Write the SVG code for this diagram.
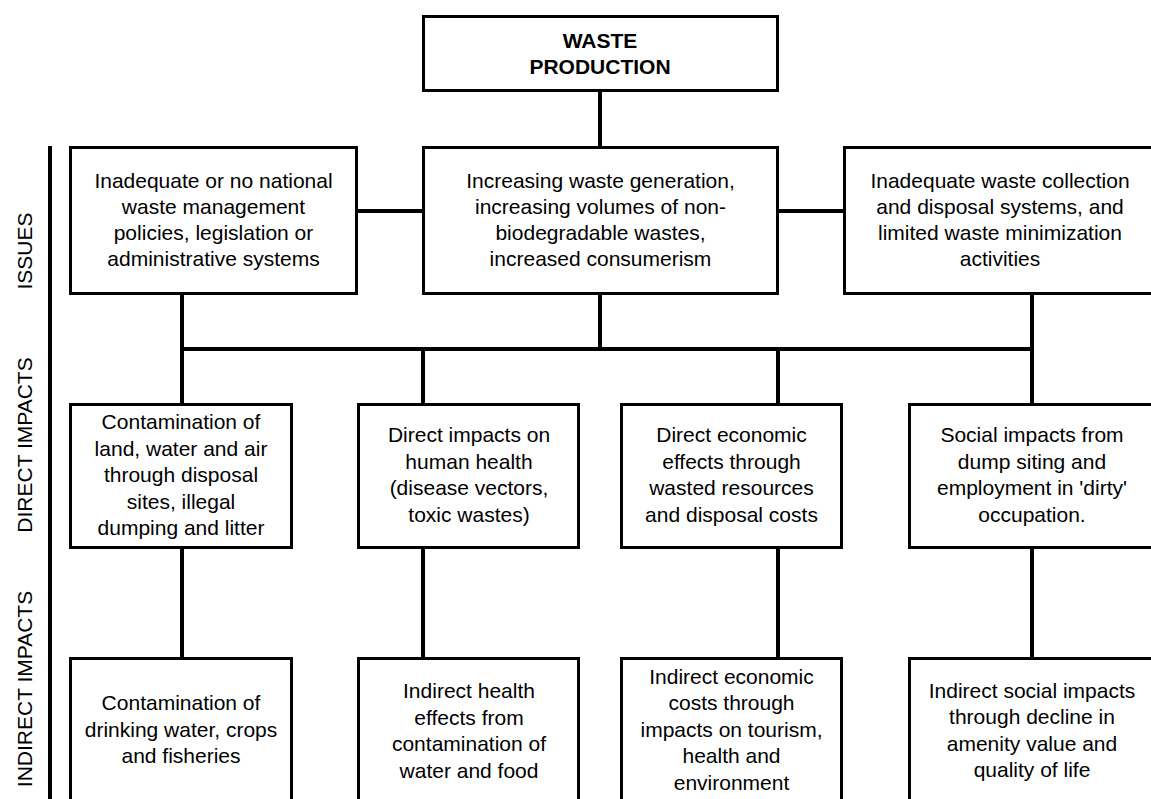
<svg xmlns="http://www.w3.org/2000/svg" width="1151" height="799" viewBox="0 0 1151 799">
<style>
.box{fill:#fff;stroke:#000;stroke-width:3}
.t{font-family:"Liberation Sans",Arial,sans-serif;font-size:21px;text-anchor:middle;fill:#000}
.b{font-weight:bold}
.con{fill:none;stroke:#000;stroke-width:4;stroke-linecap:butt}
</style>
<rect width="1151" height="799" fill="#fff"/>
<g id="labels">
<line x1="50" y1="146" x2="50" y2="799" stroke="#000" stroke-width="4"/>
<text class="t" transform="translate(32,251) rotate(-90)">ISSUES</text>
<text class="t" transform="translate(32,445) rotate(-90)">DIRECT IMPACTS</text>
<text class="t" transform="translate(32,689) rotate(-90)">INDIRECT IMPACTS</text>
</g>
<g id="connectors">
<path class="con" d="M600 92V146"/>
<path class="con" d="M358 211H422"/>
<path class="con" d="M779 211H843"/>
<path class="con" d="M182 295V349M600 295V349M1032 295V349"/>
<path class="con" d="M180 349H1034"/>
<path class="con" d="M182 349V403M423 349V403M778 349V403M1032 349V403"/>
<path class="con" d="M182 549V657M423 549V657M778 549V657M1032 549V657"/>
</g>
<g id="waste-production">
<rect class="box" x="423.5" y="16.5" width="354" height="74"/>
<text class="t b" x="600" y="48">WASTE</text>
<text class="t b" x="600" y="74">PRODUCTION</text>
</g>
<g id="issue-policies">
<rect class="box" x="70.5" y="147.5" width="286" height="146"/>
<text class="t" x="213.5" y="188">Inadequate or no national</text>
<text class="t" x="213.5" y="214">waste management</text>
<text class="t" x="213.5" y="240">policies, legislation or</text>
<text class="t" x="213.5" y="266">administrative systems</text>
</g>
<g id="issue-generation">
<rect class="box" x="423.5" y="147.5" width="354" height="146"/>
<text class="t" x="600.5" y="188">Increasing waste generation,</text>
<text class="t" x="600.5" y="214">increasing volumes of non-</text>
<text class="t" x="600.5" y="240">biodegradable wastes,</text>
<text class="t" x="600.5" y="266">increased consumerism</text>
</g>
<g id="issue-collection">
<rect class="box" x="844.5" y="147.5" width="320" height="146"/>
<text class="t" x="1000" y="188">Inadequate waste collection</text>
<text class="t" x="1000" y="214">and disposal systems, and</text>
<text class="t" x="1000" y="240">limited waste minimization</text>
<text class="t" x="1000" y="266">activities</text>
</g>
<g id="direct-contamination">
<rect class="box" x="70.5" y="404.5" width="221" height="143"/>
<text class="t" x="181" y="429">Contamination of</text>
<text class="t" x="181" y="455.5">land, water and air</text>
<text class="t" x="181" y="482">through disposal</text>
<text class="t" x="181" y="508.5">sites, illegal</text>
<text class="t" x="181" y="535">dumping and litter</text>
</g>
<g id="direct-health">
<rect class="box" x="358.5" y="404.5" width="220" height="143"/>
<text class="t" x="469" y="442">Direct impacts on</text>
<text class="t" x="469" y="468.5">human health</text>
<text class="t" x="469" y="495">(disease vectors,</text>
<text class="t" x="469" y="521.5">toxic wastes)</text>
</g>
<g id="direct-economic">
<rect class="box" x="621.5" y="404.5" width="220" height="143"/>
<text class="t" x="731.5" y="442">Direct economic</text>
<text class="t" x="731.5" y="468.5">effects through</text>
<text class="t" x="731.5" y="495">wasted resources</text>
<text class="t" x="731.5" y="521.5">and disposal costs</text>
</g>
<g id="direct-social">
<rect class="box" x="909.5" y="404.5" width="250" height="143"/>
<text class="t" x="1032" y="442">Social impacts from</text>
<text class="t" x="1032" y="468.5">dump siting and</text>
<text class="t" x="1032" y="495">employment in 'dirty'</text>
<text class="t" x="1032" y="521.5">occupation.</text>
</g>
<g id="indirect-contamination">
<rect class="box" x="70.5" y="658.5" width="221" height="160"/>
<text class="t" x="181" y="710">Contamination of</text>
<text class="t" x="181" y="736.5">drinking water, crops</text>
<text class="t" x="181" y="763">and fisheries</text>
</g>
<g id="indirect-health">
<rect class="box" x="358.5" y="658.5" width="220" height="160"/>
<text class="t" x="469" y="698">Indirect health</text>
<text class="t" x="469" y="724.5">effects from</text>
<text class="t" x="469" y="751">contamination of</text>
<text class="t" x="469" y="777.5">water and food</text>
</g>
<g id="indirect-economic">
<rect class="box" x="621.5" y="658.5" width="220" height="160"/>
<text class="t" x="731.5" y="683.5">Indirect economic</text>
<text class="t" x="731.5" y="710">costs through</text>
<text class="t" x="731.5" y="736.5">impacts on tourism,</text>
<text class="t" x="731.5" y="763">health and</text>
<text class="t" x="731.5" y="789.5">environment</text>
</g>
<g id="indirect-social">
<rect class="box" x="909.5" y="658.5" width="250" height="160"/>
<text class="t" x="1032" y="697.5">Indirect social impacts</text>
<text class="t" x="1032" y="724">through decline in</text>
<text class="t" x="1032" y="750.5">amenity value and</text>
<text class="t" x="1032" y="777">quality of life</text>
</g>
</svg>
